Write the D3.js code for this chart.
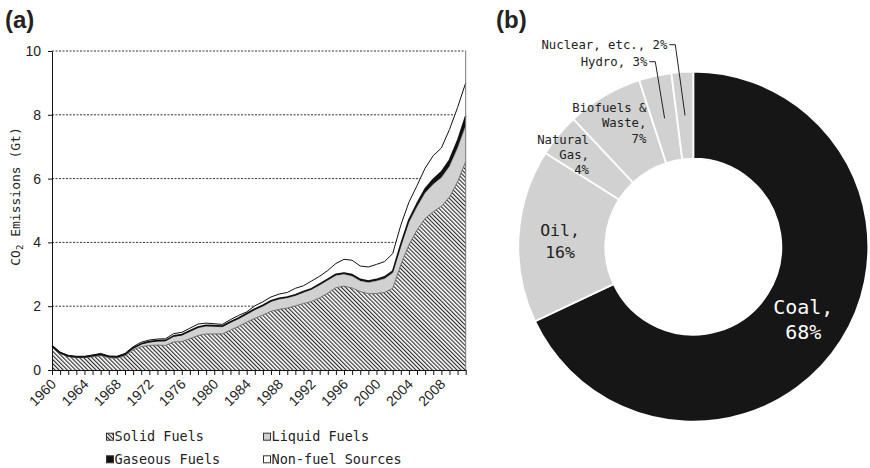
<!DOCTYPE html>
<html>
<head>
<meta charset="utf-8">
<script src="https://cdn.jsdelivr.net/npm/d3@7/dist/d3.min.js"></script>
<style>
  html, body { margin: 0; padding: 0; background: #fff; }
  svg text { fill: #222; }
</style>
</head>
<body>
<svg id="chart" width="870" height="468"></svg>
<script>
// (a) China CO2 emissions by source, Gt
const years = d3.range(1960, 2012);
const solid = [0.72,0.52,0.42,0.39,0.39,0.41,0.45,0.38,0.37,0.44,
  0.63,0.73,0.77,0.78,0.77,0.88,0.89,0.98,1.08,1.13,
  1.13,1.13,1.25,1.37,1.50,1.62,1.72,1.84,1.90,1.94,
  2.01,2.08,2.15,2.26,2.41,2.58,2.63,2.57,2.46,2.39,
  2.40,2.43,2.56,3.30,3.92,4.39,4.75,4.96,5.13,5.42,
  5.90,6.53];
const liquid = [0.03,0.02,0.02,0.02,0.02,0.03,0.03,0.03,0.03,0.04,
  0.05,0.08,0.10,0.12,0.14,0.17,0.19,0.22,0.24,0.24,
  0.23,0.22,0.23,0.23,0.24,0.26,0.28,0.30,0.32,0.32,
  0.32,0.35,0.37,0.40,0.40,0.38,0.37,0.37,0.33,0.35,
  0.39,0.43,0.48,0.57,0.70,0.72,0.80,0.86,0.90,0.96,
  1.05,1.12];
const gaseous = [0.00,0.00,0.00,0.00,0.00,0.01,0.01,0.01,0.01,0.01,
  0.01,0.01,0.02,0.02,0.02,0.02,0.03,0.03,0.03,0.03,
  0.03,0.03,0.03,0.03,0.03,0.03,0.03,0.03,0.03,0.03,
  0.03,0.03,0.03,0.04,0.04,0.04,0.04,0.05,0.05,0.05,
  0.05,0.06,0.06,0.07,0.09,0.11,0.13,0.16,0.18,0.20,
  0.24,0.31];
const nonFuel = [0.03,0.02,0.02,0.02,0.02,0.02,0.03,0.02,0.02,0.03,
  0.04,0.05,0.05,0.05,0.05,0.07,0.07,0.08,0.09,0.07,
  0.06,0.05,0.07,0.08,0.05,0.10,0.11,0.12,0.13,0.14,
  0.20,0.18,0.24,0.24,0.27,0.34,0.43,0.45,0.42,0.44,
  0.47,0.48,0.55,0.60,0.55,0.56,0.65,0.74,0.75,0.96,
  1.04,1.04];
const seriesNames = ['Solid Fuels', 'Liquid Fuels', 'Gaseous Fuels', 'Non-fuel Sources'];
const yTicks = [0, 2, 4, 6, 8, 10];
const xLabelYears = d3.range(1960, 2011, 4);

// (b) energy mix shares
const mixNames = ['Coal', 'Oil', 'Natural Gas', 'Biofuels & Waste', 'Hydro', 'Nuclear, etc.'];
const mixShares = [68, 16, 4, 7, 3, 2];

const svg = d3.select('#chart');
const mono = '"DejaVu Sans Mono", monospace';
const sans = '"Liberation Sans", Arial, sans-serif';

const defs = svg.append('defs');
const hatch = defs.append('pattern')
  .attr('id', 'hatch')
  .attr('patternUnits', 'userSpaceOnUse')
  .attr('width', 2.9).attr('height', 2.9)
  .attr('patternTransform', 'rotate(-45)');
hatch.append('rect').attr('width', 2.9).attr('height', 2.9).attr('fill', '#fff');
hatch.append('line').attr('x1', 0.6).attr('y1', 0).attr('x2', 0.6).attr('y2', 2.9)
  .attr('stroke', '#222').attr('stroke-width', 1.1);

// ---------- panel (a) ----------
const x = d3.scaleLinear().domain([1960, 2011]).range([52, 465.7]);
const y = d3.scaleLinear().domain([0, 10]).range([370, 51]);

svg.append('text').attr('x', 5).attr('y', 28)
  .style('font', 'bold 24px ' + sans).text('(a)');

// gridlines
svg.append('g').selectAll('line').data(yTicks.filter(d => d > 0)).enter()
  .append('line')
  .attr('x1', x(1960)).attr('x2', x(2011))
  .attr('y1', d => y(d)).attr('y2', d => y(d))
  .attr('stroke', '#333').attr('stroke-width', 1)
  .attr('stroke-dasharray', '2,1.5');

const rows = years.map((yr, i) => ({
  year: yr, solid: solid[i], liquid: liquid[i], gaseous: gaseous[i], nonFuel: nonFuel[i]
}));
const stack = d3.stack().keys(['solid', 'liquid', 'gaseous', 'nonFuel']);
const layers = stack(rows);
const fills = ['url(#hatch)', '#d0d1d0', '#111', '#fff'];
const strokes = ['#555', '#999', '#111', '#111'];
const strokeW = [0.8, 0.6, 1.6, 1];

const area = d3.area()
  .x(d => x(d.data.year))
  .y0(d => y(d[0]))
  .y1(d => y(d[1]));
const topLine = d3.line()
  .x(d => x(d.data.year))
  .y(d => y(d[1]));

const gA = svg.append('g');
gA.selectAll('path.area').data(layers).enter()
  .append('path').attr('class', 'area')
  .attr('d', area)
  .attr('fill', (d, i) => fills[i]);
gA.selectAll('path.edge').data(layers).enter()
  .append('path').attr('class', 'edge')
  .attr('d', topLine)
  .attr('fill', 'none')
  .attr('stroke', (d, i) => strokes[i])
  .attr('stroke-width', (d, i) => strokeW[i])
  .attr('stroke-linejoin', 'round');

// right border
svg.append('line')
  .attr('x1', x(2011)).attr('x2', x(2011))
  .attr('y1', y(10)).attr('y2', y(0))
  .attr('stroke', '#777').attr('stroke-width', 1);

// y axis
const yAxis = svg.append('g').attr('transform', `translate(${x(1960)},0)`)
  .call(d3.axisLeft(y).tickValues(yTicks).tickSize(4).tickSizeOuter(0).tickPadding(7));
yAxis.select('.domain').attr('stroke', '#111');
yAxis.selectAll('.tick line').attr('stroke', '#111');
yAxis.selectAll('text').style('font', '14px ' + sans).attr('fill', '#222');

// x axis
const xAxis = svg.append('g').attr('transform', `translate(0,${y(0)})`)
  .call(d3.axisBottom(x).tickValues(years).tickSize(5).tickSizeOuter(0).tickFormat(''));
xAxis.select('.domain').attr('stroke', '#111');
xAxis.selectAll('.tick line').attr('stroke', '#111');

svg.append('g').selectAll('text').data(xLabelYears).enter()
  .append('text')
  .attr('transform', d => `translate(${x(d) + 5},${y(0) + 15}) rotate(-45)`)
  .attr('text-anchor', 'end')
  .style('font', '14px ' + sans)
  .text(d => d);

// y title
const yTitle = svg.append('text')
  .attr('transform', `translate(20,${(y(0) + y(10)) / 2 - 14}) rotate(-90)`)
  .attr('text-anchor', 'middle')
  .style('font', '13px ' + mono);
yTitle.append('tspan').text('CO');
yTitle.append('tspan').attr('dy', 3).style('font-size', '9px').text('2');
yTitle.append('tspan').attr('dy', -3).text(' Emissions (Gt)');

// legend
const legendPos = [[106, 436.7], [263, 436.7], [106, 459.3], [263, 459.3]];
const legendFill = ['url(#hatch)', '#d0d1d0', '#111', '#fff'];
const lg = svg.append('g').selectAll('g').data(seriesNames).enter()
  .append('g')
  .attr('transform', (d, i) => `translate(${legendPos[i][0]},${legendPos[i][1]})`);
lg.append('rect')
  .attr('x', 0.5).attr('y', -3.5).attr('width', 7).attr('height', 7)
  .attr('fill', (d, i) => legendFill[i])
  .attr('stroke', '#333').attr('stroke-width', 1);
lg.append('text')
  .attr('x', 8.5).attr('dy', '0.35em')
  .style('font', '13.5px ' + mono)
  .text(d => d);

// ---------- panel (b) ----------
svg.append('text').attr('x', 496).attr('y', 28)
  .style('font', 'bold 24px ' + sans).text('(b)');

const cx = 693.3, cy = 246.7, rOut = 175, rIn = 88;
const pie = d3.pie().sort(null).value(d => d.share);
const arcs = pie(mixNames.map((n, i) => ({ name: n, share: mixShares[i] })));
const arc = d3.arc().innerRadius(rIn).outerRadius(rOut);

const gB = svg.append('g').attr('transform', `translate(${cx},${cy})`);
gB.selectAll('path').data(arcs).enter()
  .append('path')
  .attr('d', arc)
  .attr('fill', (d, i) => i === 0 ? '#161616' : '#d0d1d0')
  .attr('stroke', '#fff').attr('stroke-width', 1.8);

// label layout: offset from slice centroid, text lines, size, anchor
const labelSpec = [
  { dx: -1, dy: 2, lines: ['Coal,', '68%'], size: 20, lh: 25, anchor: 'middle', color: '#fff' },
  { dx: -2, dy: 2.5, lines: ['Oil,', '16%'], size: 16.5, lh: 22, anchor: 'middle', color: '#222' },
  { dx: -3, dy: -8, lines: ['Natural', 'Gas,', '4%'], size: 12.3, lh: 15, anchor: 'end', color: '#222' },
  { dx: 20, dy: -10.5, lines: ['Biofuels &', 'Waste,', '7%'], size: 12.3, lh: 15.5, anchor: 'end', color: '#222' }
];
labelSpec.forEach((s, i) => {
  const c = arc.centroid(arcs[i]);
  const t = gB.append('text')
    .attr('text-anchor', s.anchor)
    .style('font', s.size + 'px ' + mono)
    .style('fill', s.color);
  const n = s.lines.length;
  s.lines.forEach((ln, k) => {
    t.append('tspan')
      .attr('x', c[0] + s.dx)
      .attr('y', c[1] + s.dy + (k - (n - 1) / 2) * s.lh)
      .attr('dy', '0.35em')
      .text(ln);
  });
});

// leader-line labels for the thin slices
const leaders = [
  { i: 4, text: 'Hydro, 3%', lx: -46, ly: -185 },
  { i: 5, text: 'Nuclear, etc., 2%', lx: -26, ly: -202 }
];
leaders.forEach(l => {
  const c = arc.centroid(arcs[l.i]);
  gB.append('path')
    .attr('d', `M${l.lx + 2},${l.ly}H${l.lx + 8}L${c[0]},${c[1]}`)
    .attr('fill', 'none').attr('stroke', '#222').attr('stroke-width', 1);
  gB.append('text')
    .attr('x', l.lx).attr('y', l.ly).attr('dy', '0.35em')
    .attr('text-anchor', 'end')
    .style('font', '12.3px ' + mono)
    .text(l.text);
});
</script>
</body>
</html>
